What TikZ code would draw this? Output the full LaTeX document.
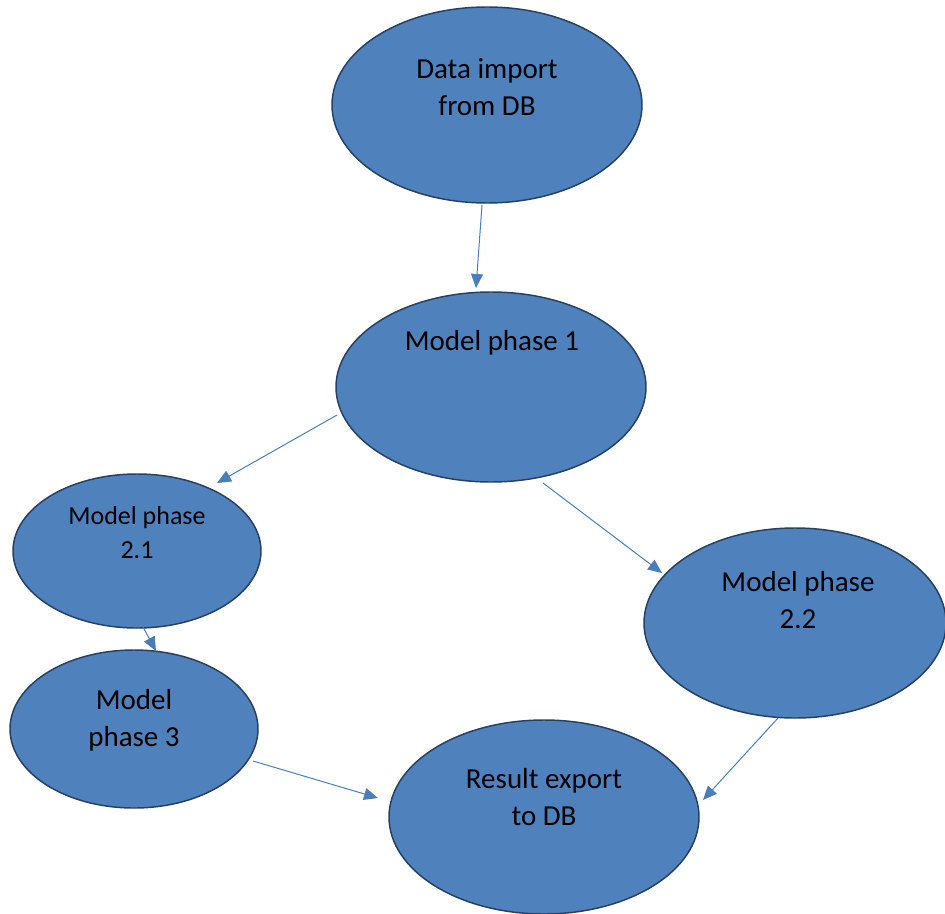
\documentclass[tikz,border=0pt]{standalone}
\usepackage{fontspec}
\setmainfont{Carlito}
\usetikzlibrary{arrows.meta, shapes.geometric}
\definecolor{stagefill}{RGB}{79,129,189}
\definecolor{stageline}{RGB}{37,64,97}
\definecolor{flowline}{RGB}{74,126,187}

\tikzset{
  stage/.style 2 args={ellipse, draw=stageline, line width=1.1pt, fill=stagefill,
    minimum width=#1*0.75pt, minimum height=#2*0.75pt, inner sep=0pt},
  stagetext/.style={align=center, font=\fontsize{21.75}{27.75}\selectfont},
  smalltext/.style={align=center, font=\fontsize{19.5}{25.5}\selectfont},
  flow/.style={draw=flowline, line width=0.75pt,
    -{Triangle[length=10.5pt, width=9pt]}}
}

\begin{document}
\begin{tikzpicture}[x=0.75pt, y=-0.75pt]
  \useasboundingbox (0,0) rectangle (945,913);
  % Stages
  \node[stage={310}{196}] (import) at (487,105) {};
  \node[stage={310}{190}] (phaseone) at (491,387) {};
  \node[stage={248}{154}] (phasetwoa) at (137,551) {};
  \node[stage={302}{190}] (phasetwob) at (795,623) {};
  \node[stage={248}{158}] (phasethree) at (134,729) {};
  \node[stage={310}{194}] (export) at (544,817) {};
  % Labels
  \node[stagetext] (importtxt) at (487,87) {Data import\\from DB};
  \node[stagetext] (phaseonetxt) at (492,343) {Model phase 1};
  \node[smalltext] (phasetwoatxt) at (137,533) {Model phase\\2.1};
  \node[stagetext] (phasetwobtxt) at (798,600) {Model phase\\2.2};
  \node[stagetext] (phasethreetxt) at (134,720) {Model\\phase 3};
  \node[stagetext] (exporttxt) at (544,797) {Result export\\to DB};
  % Arrow ends
  \coordinate (a1) at (482,205); \coordinate (b1) at (476,288);
  \coordinate (a2) at (337,415); \coordinate (b2) at (217,483);
  \coordinate (a3) at (543,483); \coordinate (b3) at (662,573);
  \coordinate (a4) at (143,627); \coordinate (b4) at (156,651);
  \coordinate (a5) at (253,761); \coordinate (b5) at (378,798);
  \coordinate (a6) at (778,718); \coordinate (b6) at (703,800);
  % Flow
  \draw[flow] (a1) -- (b1);
  \draw[flow] (a2) -- (b2);
  \draw[flow] (a3) -- (b3);
  \draw[flow] (a4) -- (b4);
  \draw[flow] (a5) -- (b5);
  \draw[flow] (a6) -- (b6);
\end{tikzpicture}
\end{document}
